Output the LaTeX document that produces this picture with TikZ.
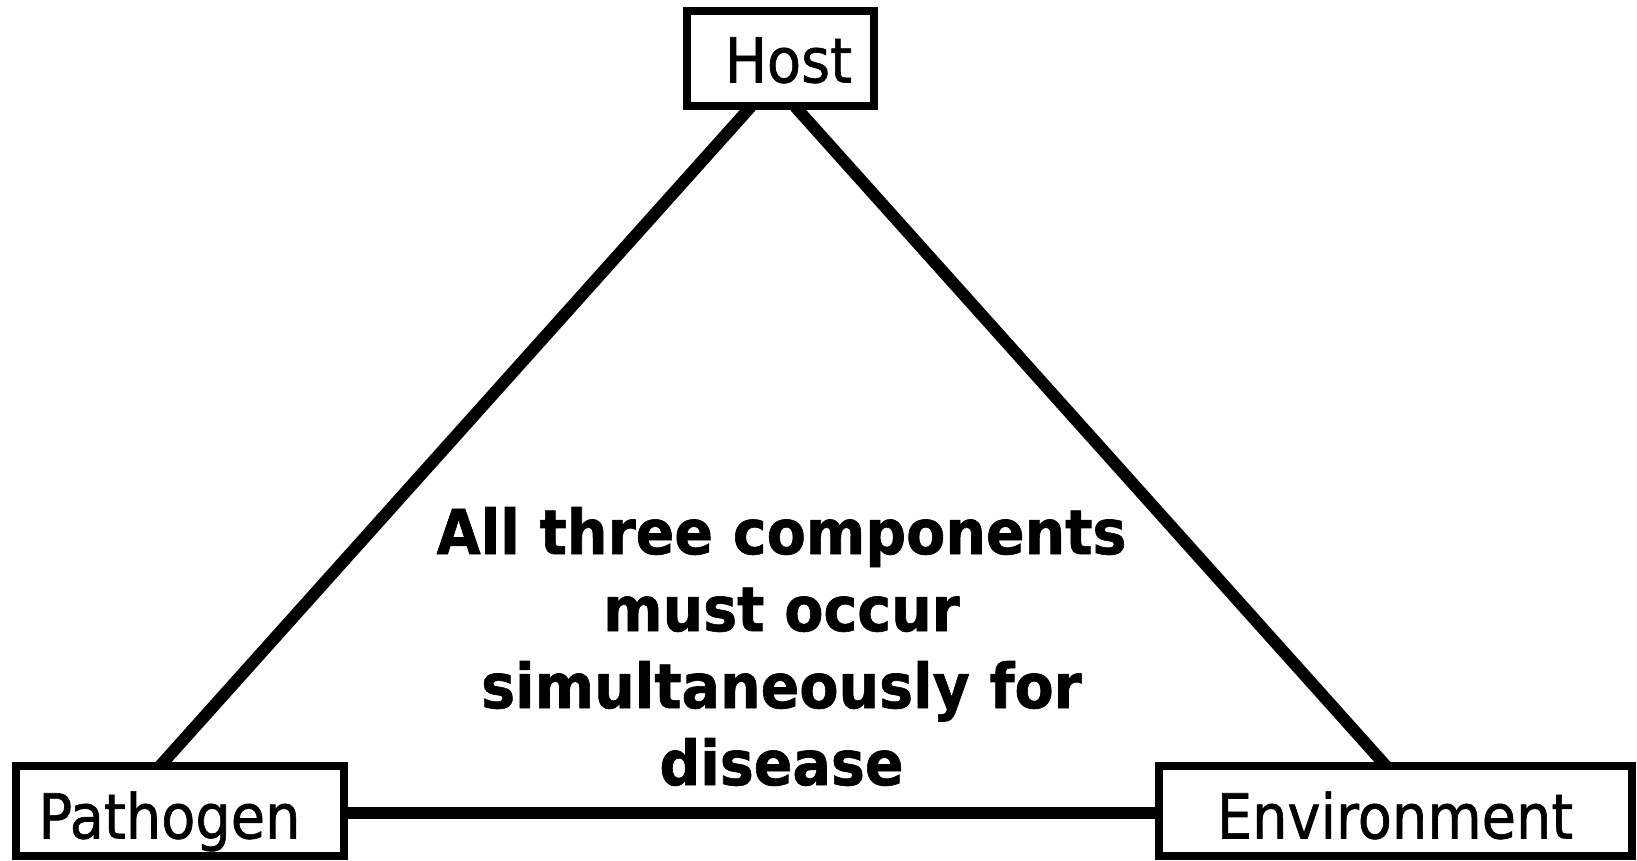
\documentclass[tikz,border=0pt]{standalone}
\usepackage{fontspec}
\setmainfont{DejaVu Sans}[FakeStretch=0.9, FakeBold=1]
\newfontfamily\notefont{DejaVu Sans}[FakeStretch=0.92, FakeBold=1]
\usetikzlibrary{positioning}

\begin{document}
\begin{tikzpicture}[x=1pt, y=-1pt,
  box/.style={rectangle, draw=black, line width=8pt, inner sep=0pt, outer sep=0pt,
    text height=47pt, text depth=0pt, font=\fontsize{62}{74}\selectfont},
  link/.style={draw=black, line width=12pt}
]
\useasboundingbox[fill=white] (0,0) rectangle (1637,861);

\node[box, minimum width=187pt, minimum height=95pt] (host) at (780.5,59) {\hspace*{16pt}Host};
\node[box, minimum width=328pt, minimum height=90pt, text height=55pt] (pathogen) at (179.5,811) {Pathogen\hspace*{20pt}};
\node[box, minimum width=473pt, minimum height=90pt, text height=55pt] (environment) at (1395,811) {Environment};

\draw[link] ([xshift=-29.5pt]host.south) -- ([xshift=-19.5pt]pathogen.north);
\draw[link] ([xshift=14.5pt]host.south) -- ([xshift=-9pt]environment.north);
\draw[link] ([yshift=-2pt]pathogen.east) -- ([yshift=-2pt]environment.west);

\node[font=\notefont\bfseries\fontsize{62}{77}\selectfont, align=center, inner sep=0pt]
  (note) at (781.5,646.5) {All three components\\must occur\\simultaneously for\\disease};
\end{tikzpicture}
\end{document}
